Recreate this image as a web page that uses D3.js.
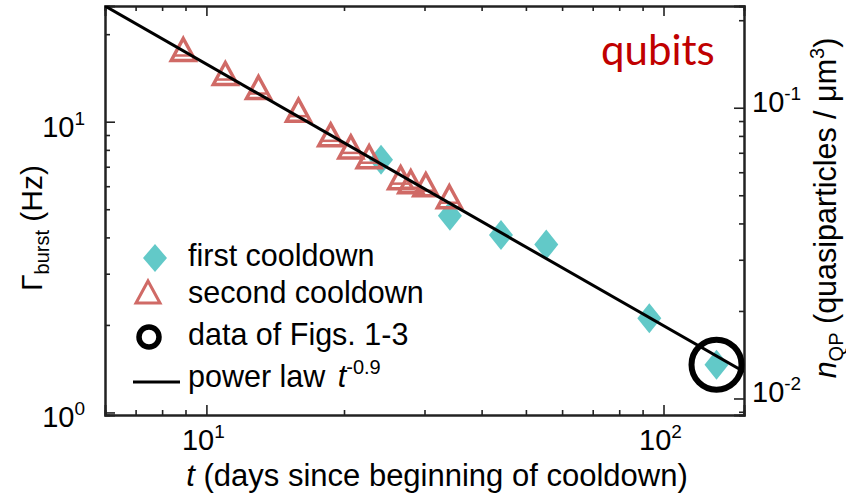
<!DOCTYPE html>
<html>
<head>
<meta charset="utf-8">
<script src="https://cdn.jsdelivr.net/npm/d3@7"></script>
<style>
  body { margin: 0; background: #fff; }
  svg text { font-family: "Liberation Sans", Arial, sans-serif; fill: #000; }
</style>
</head>
<body>
<script>
// first cooldown (diamonds)
var firstT = [24.1, 34.1, 44.1, 55.4, 93.1, 130.6];
var firstG = [7.4, 4.75, 4.08, 3.78, 2.11, 1.46];
// second cooldown (open triangles)
var secondT = [8.9, 11.0, 13.0, 15.9, 18.7, 20.7, 22.7, 26.6, 28.0, 30.2, 34.0];
var secondG = [17.3, 14.3, 12.8, 10.7, 8.8, 8.0, 7.4, 6.27, 6.07, 5.93, 5.39];
// data of Figs. 1-3 (circled point)
var figT = [130.6];
var figG = [1.46];
// power law fit
var fitA = 125.4, fitExp = -0.9;
var fitT = [6, 150];
// tick labels (exponents)
var xTickExp = [1, 2];
var yTickExp = [0, 1];
var y2TickExp = [-2, -1];
var legendLabels = ["first cooldown", "second cooldown", "data of Figs. 1-3", "power law "];

var W = 846, H = 494;
var svg = d3.select("body").append("svg").attr("width", W).attr("height", H);

var x = d3.scaleLog().domain([6, 150]).range([105, 744]);
var y = d3.scaleLog().domain([0.98, 25]).range([415, 6]);
var k = 0.008953; // Gamma -> n_QP
var y2 = d3.scaleLog().domain([0.98 * k, 25 * k]).range([415, 6]);

var teal = "#62C9C8", red = "#D06A66";

// clip
svg.append("clipPath").attr("id", "clip").append("rect")
    .attr("x", 105).attr("y", 6).attr("width", 639).attr("height", 409);

// axes (ticks inward)
function isMajor(v) { return Math.abs(Math.log10(v) - Math.round(Math.log10(v))) < 1e-6; }
var xt = x.ticks(), yt = y.ticks(), y2t = y2.ticks();

function drawAxis(axisFn, scale, ticks, tr) {
    var g1 = svg.append("g").attr("transform", tr)
        .call(axisFn(scale).tickValues(ticks.filter(isMajor)).tickSize(-10).tickFormat(""));
    var g2 = svg.append("g").attr("transform", tr)
        .call(axisFn(scale).tickValues(ticks.filter(function (v) { return !isMajor(v); })).tickSize(-5).tickFormat(""));
    [g1, g2].forEach(function (g) {
        g.selectAll("path").attr("stroke", "#222").attr("stroke-width", 2);
        g.selectAll("line").attr("stroke", "#222").attr("stroke-width", 1.6);
    });
}
drawAxis(d3.axisBottom, x, xt, "translate(0,415)");
drawAxis(d3.axisTop, x, xt, "translate(0,6)");
drawAxis(d3.axisLeft, y, yt, "translate(105,0)");
drawAxis(d3.axisRight, y2, y2t, "translate(744,0)");

// tick labels
function powLabel(sel, base, exp) {
    sel.append("tspan").text(base);
    sel.append("tspan").attr("font-size", 19).attr("dy", -12).text(exp);
}
xTickExp.forEach(function (e) {
    var t = svg.append("text").attr("x", x(Math.pow(10, e)) - 3).attr("y", 450)
        .attr("text-anchor", "middle").attr("font-size", 29);
    powLabel(t, "10", e);
});
yTickExp.forEach(function (e) {
    var t = svg.append("text").attr("x", 85).attr("y", y(Math.pow(10, e)) + 15)
        .attr("text-anchor", "end").attr("font-size", 29);
    powLabel(t, "10", e);
});
y2TickExp.forEach(function (e) {
    var t = svg.append("text").attr("x", 752).attr("y", y2(Math.pow(10, e)) + 4)
        .attr("text-anchor", "start").attr("font-size", 29);
    powLabel(t, "10", e);
});

// axis titles
var xt1 = svg.append("text").attr("x", 437).attr("y", 486).attr("text-anchor", "middle").attr("font-size", 31);
xt1.append("tspan").attr("font-style", "italic").text("t");
xt1.append("tspan").text(" (days since beginning of cooldown)");

var yt1 = svg.append("text").attr("transform", "translate(42,228) rotate(-90)")
    .attr("text-anchor", "middle").attr("font-size", 30);
yt1.append("tspan").text("\u0393");
yt1.append("tspan").attr("font-size", 20).attr("dy", 7).text("burst");
yt1.append("tspan").attr("dy", -7).text(" (Hz)");

var yt2 = svg.append("text").attr("transform", "translate(836,208) rotate(-90)")
    .attr("text-anchor", "middle").attr("font-size", 30.5);
yt2.append("tspan").attr("font-style", "italic").text("n");
yt2.append("tspan").attr("font-size", 20).attr("dy", 7).text("QP");
yt2.append("tspan").attr("dy", -7).text(" (quasiparticles / \u03bcm");
yt2.append("tspan").attr("font-size", 20).attr("dy", -12).text("3");
yt2.append("tspan").attr("dy", 12).text(")");

// markers
var plot = svg.append("g").attr("clip-path", "url(#clip)");
var diamond = "M0,-15L12,0L0,15L-12,0Z";
var triangle = "M0,-14L12,8L-12,8Z";

plot.selectAll(".dia").data(firstT).enter().append("path")
    .attr("d", diamond).attr("fill", teal)
    .attr("transform", function (d, i) { return "translate(" + x(d) + "," + y(firstG[i]) + ")"; });

var tri = plot.selectAll(".tri").data(secondT).enter().append("g")
    .attr("transform", function (d, i) { return "translate(" + x(d) + "," + y(secondG[i]) + ")"; });
tri.append("path").attr("d", triangle).attr("fill", "none").attr("stroke", red).attr("stroke-width", 3.5);
tri.append("line").attr("x1", -9).attr("x2", 9).attr("y1", 3).attr("y2", 3).attr("stroke", red).attr("stroke-width", 2.5);

var line = d3.line().x(function (d) { return x(d); }).y(function (d) { return y(fitA * Math.pow(d, fitExp)); });
plot.append("path").datum(fitT).attr("d", line).attr("fill", "none").attr("stroke", "#000").attr("stroke-width", 3);

svg.selectAll(".fig").data(figT).enter().append("circle")
    .attr("cx", function (d) { return x(d); }).attr("cy", function (d, i) { return y(figG[i]); })
    .attr("r", 25).attr("fill", "none").attr("stroke", "#000").attr("stroke-width", 6);

// "qubits" label
svg.append("text").attr("x", 601).attr("y", 65).attr("font-size", 42)
    .style("font-family", "Lato, 'Open Sans', sans-serif").style("fill", "#C00000").text("qubits");

// legend
var lg = svg.append("g");
lg.append("path").attr("d", "M0,-14L12,0L0,14L-12,0Z").attr("fill", teal).attr("transform", "translate(155,258)");
lg.append("path").attr("d", "M0,-12L12,10L-12,10Z").attr("fill", "none").attr("stroke", red).attr("stroke-width", 3)
    .attr("transform", "translate(148,293)");
lg.append("circle").attr("cx", 149).attr("cy", 337).attr("r", 10).attr("fill", "none").attr("stroke", "#000").attr("stroke-width", 5.5);
lg.append("line").attr("x1", 133).attr("x2", 180).attr("y1", 382).attr("y2", 382).attr("stroke", "#000").attr("stroke-width", 3);
var baselines = [266, 303, 345, 387];
legendLabels.forEach(function (s, i) {
    var t = lg.append("text").attr("x", 188).attr("y", baselines[i]).attr("font-size", 30.5).text(s);
    if (i === 3) {
        t.append("tspan").attr("font-style", "italic").attr("dx", 4).text("t");
        t.append("tspan").attr("font-size", 20).attr("dy", -13).text("-0.9");
    }
});
</script>
</body>
</html>
